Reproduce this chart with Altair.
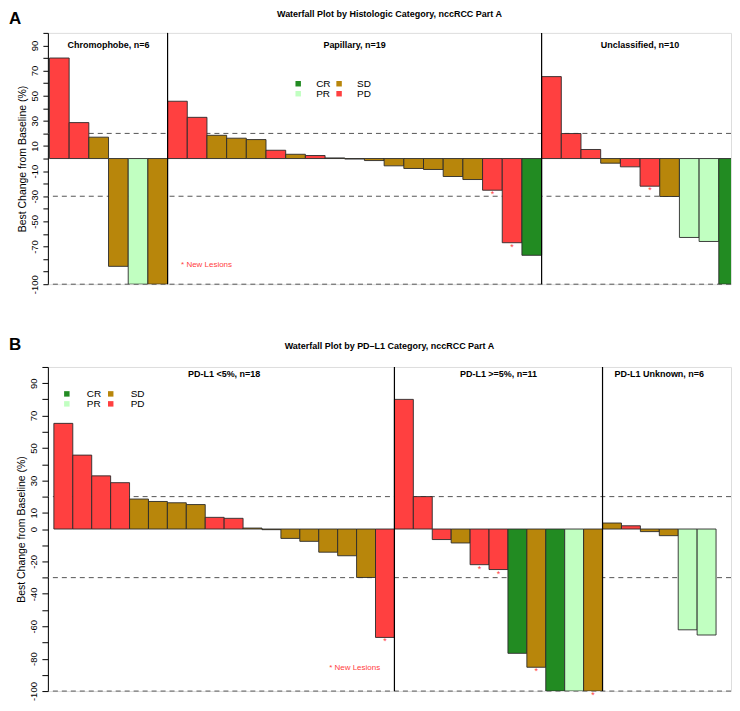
import altair as alt
import pandas as pd

FONT = "Liberation Sans"
RESP_ORDER = ["CR", "PR", "SD", "PD"]
RESP_COLORS = ["#228B22", "#C1FFC1", "#B8860B", "#FF4040"]
RED = "#FF4040"

# ---------------- Panel A data ----------------
a_title = "Waterfall Plot by Histologic Category, nccRCC Part A"
a_groups = ["Chromophobe, n=6", "Papillary, n=19", "Unclassified, n=10"]
a_sizes = [6, 19, 10]
a_values = [80, 28.6, 17, -85.8, -100, -100,
            45.6, 32.8, 18.5, 16.2, 15.1, 6.6, 3.4, 2.4, 0.5, -0.4, -1.6, -5.8, -7.9,
            -8.7, -14.3, -16.7, -25.2, -67, -77,
            65.2, 19.9, 7.2, -3.7, -6.6, -22, -30.2, -62.8, -66, -100]
a_resp = ["PD", "PD", "SD", "SD", "PR", "SD",
          "PD", "PD", "SD", "SD", "SD", "PD", "SD", "PD", "SD", "SD", "SD", "SD", "SD",
          "SD", "SD", "SD", "PD", "PD", "CR",
          "PD", "PD", "PD", "SD", "PD", "PD", "SD", "PR", "PR", "CR"]
a_new = [0] * 6 + [0] * 16 + [1, 1, 0] + [0] * 5 + [1] + [0] * 4
a_label_ticks = [90, 70, 50, 30, 10, -10, -30, -50, -70, -100]

# ---------------- Panel B data ----------------
b_title = "Waterfall Plot by PD\u2013L1 Category, nccRCC Part A"
b_groups = ["PD-L1 <5%, n=18", "PD-L1 >=5%, n=11", "PD-L1 Unknown, n=6"]
b_sizes = [18, 11, 6]
b_values = [65.2, 45.6, 32.8, 28.6, 18.5, 17, 16.2, 15.1, 7.2, 6.6, 0.6, -0.4,
            -5.8, -7.6, -14.3, -16.5, -29.9, -66.9,
            80, 20, -6.5, -8.6, -22, -25, -76.7, -85.3, -100, -100, -100,
            3.7, 2, -1.6, -4.1, -62.2, -65.4]
b_resp = ["PD", "PD", "PD", "PD", "SD", "SD", "SD", "SD", "PD", "PD", "SD", "SD",
          "SD", "SD", "SD", "SD", "SD", "PD",
          "PD", "PD", "PD", "SD", "PD", "PD", "CR", "SD", "CR", "PR", "SD",
          "SD", "PD", "SD", "SD", "PR", "PR"]
b_new = [0] * 17 + [1] + [0, 0, 0, 0, 1, 1, 0, 1, 0, 0, 1] + [0] * 6
b_label_ticks = [90, 70, 50, 30, 10, 0, -20, -40, -60, -80, -100]

ref_lines = [20, -30, -100]
all_ticks = list(range(-100, 101, 10))


def build_panel(letter, title, groups, sizes, values, resp, new, label_ticks, *,
                width, height, xdom, label_y, legend_xy, note_xy, letter_xy,
                title_y, tick_size, label_pad, sym_gap, col_pad):
    n = len(values)
    bars = pd.DataFrame({"pos": list(range(n)), "value": values, "resp": resp, "new": new})
    bars["pos2"] = bars["pos"] + 1
    bars["mid"] = bars["pos"] + 0.5
    starts = [sum(sizes[:i]) for i in range(len(sizes))]
    grp = pd.DataFrame({"label": groups, "start": starts, "size": sizes})
    grp["center"] = grp["start"] + grp["size"] / 2
    bounds = pd.DataFrame({"b": starts[1:]})
    refs = pd.DataFrame({"y": ref_lines})
    one = pd.DataFrame({"k": [0]})

    xs = alt.Scale(domain=xdom, nice=False, zero=False)
    ys = alt.Scale(domain=[-100, 100], nice=False, zero=False)
    shown = ",".join(str(v) for v in label_ticks)
    yaxis = alt.Axis(
        values=all_ticks, tickCount=40,
        labelExpr=f"indexof([{shown}], datum.value) >= 0 ? '' + datum.value : ''",
        labelAngle=-90, labelAlign="center", labelBaseline="bottom",
        labelFlush=False, labelOverlap=False, labelBound=False,
        tickSize=tick_size, labelPadding=label_pad, titlePadding=2,
        grid=False, domainColor="black", tickColor="black", labelColor="black",
        labelFontSize=9.5, labelFont=FONT,
        title="Best Change from Baseline (%)", titleFontSize=10.5,
        titleFontWeight="normal", titleFont=FONT, titleColor="black",
    )

    refl = alt.Chart(refs).mark_rule(strokeDash=[5, 4], color="#555555", strokeWidth=1).encode(
        y=alt.Y("y:Q", scale=ys, axis=yaxis)
    )
    bar = alt.Chart(bars).mark_bar(stroke="#2b2b2b", strokeWidth=0.9, clip=True).encode(
        x=alt.X("pos:Q", scale=xs, axis=None),
        x2="pos2:Q",
        y=alt.Y("value:Q", scale=ys, axis=yaxis),
        y2=alt.datum(0),
        color=alt.Color(
            "resp:N",
            scale=alt.Scale(domain=RESP_ORDER, range=RESP_COLORS),
            legend=alt.Legend(
                title=None, orient="none", legendX=legend_xy[0], legendY=legend_xy[1],
                columns=2, symbolType="square", symbolSize=30, symbolStrokeWidth=0,
                symbolOpacity=1, labelFontSize=10, labelFont=FONT, labelColor="black",
                labelOffset=sym_gap, columnPadding=col_pad, rowPadding=0, padding=0,
            ),
        ),
    )
    div = alt.Chart(bounds).mark_rule(color="black", strokeWidth=1.2).encode(
        x="b:Q", y=alt.datum(100), y2=alt.datum(-100)
    )
    glab = alt.Chart(grp).mark_text(font=FONT, fontSize=9, fontWeight="bold",
                                    baseline="middle", color="black").encode(
        x="center:Q", y=alt.datum(label_y), text="label:N"
    )
    stars = alt.Chart(bars).transform_filter("datum.new == 1").mark_text(
        text="*", color=RED, fontSize=9, baseline="top", font=FONT
    ).encode(x="mid:Q", y=alt.Y("value:Q", scale=ys, axis=yaxis))
    note = alt.Chart(one).mark_text(text="* New Lesions", color=RED, fontSize=8, font=FONT).encode(
        x=alt.datum(note_xy[0]), y=alt.datum(note_xy[1])
    )
    let = alt.Chart(one).mark_text(text=letter, fontSize=17, fontWeight="bold", font=FONT,
                                   align="left", baseline="top", color="black").encode(
        x=alt.value(letter_xy[0]), y=alt.value(letter_xy[1])
    )
    ttl = alt.Chart(one).mark_text(text=title, fontSize=9, fontWeight="bold", font=FONT,
                                   align="center", baseline="middle", color="black").encode(
        x=alt.value(width / 2), y=alt.value(title_y)
    )
    return alt.layer(refl, bar, div, glab, stars, note, let, ttl).properties(
        width=width, height=height,
    )


panel_a = build_panel(
    "A", a_title, a_groups, a_sizes, a_values, a_resp, a_new, a_label_ticks,
    width=685, height=252, xdom=[-0.08, 34.62], label_y=90.5,
    legend_xy=(246, 46), note_xy=(7.98, -85), letter_xy=(-39, -22),
    title_y=-19, tick_size=5, label_pad=3, sym_gap=13, col_pad=3,
)
panel_b = build_panel(
    "B", b_title, b_groups, b_sizes, b_values, b_resp, b_new, b_label_ticks,
    width=685, height=325, xdom=[-0.316, 35.79], label_y=95.5,
    legend_xy=(14, 22), note_xy=(15.9, -85.5), letter_xy=(-39, -30),
    title_y=-21, tick_size=6, label_pad=3, sym_gap=15, col_pad=4,
)

chart = (
    alt.vconcat(panel_a, panel_b, spacing=40)
    .resolve_scale(color="independent")
    .resolve_legend(color="independent")
    .properties(padding=0, background="white")
    .configure_view(stroke=None)
    .configure_axisY(labelOverlap=False)
    .configure(font=FONT)
)

chart.save("out.html", embed_options={"renderer": "svg", "actions": False})
